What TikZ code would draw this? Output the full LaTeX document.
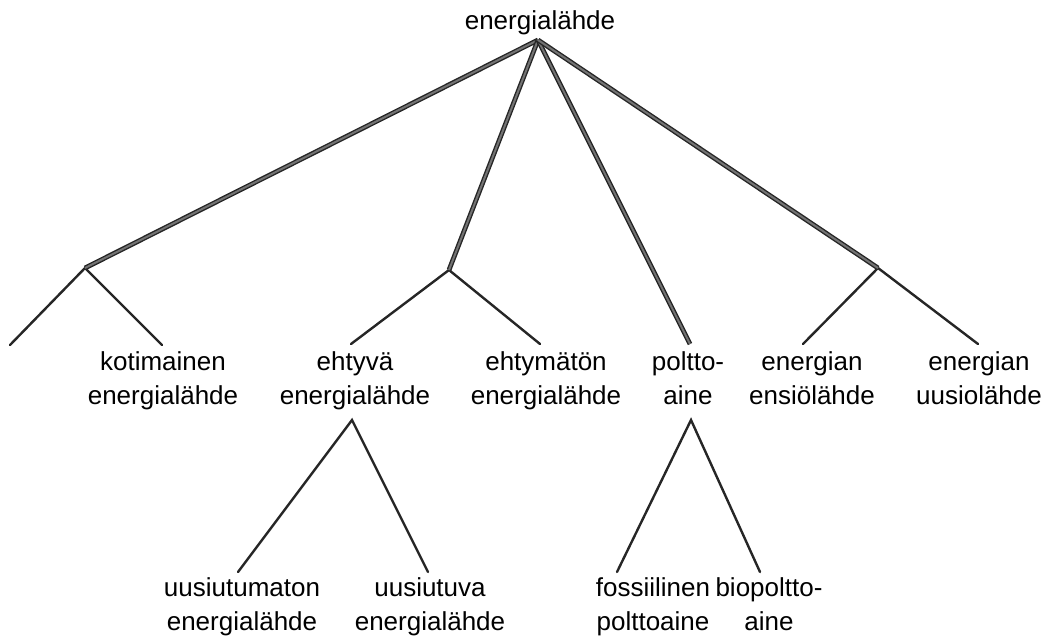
\documentclass[tikz,border=0pt]{standalone}
\usepackage{fontspec}
\setmainfont{Liberation Sans}
\begin{document}
\begin{tikzpicture}[x=1pt,y=-1pt,
  lbl/.style={font=\fontsize{26}{34}\selectfont, align=center, anchor=base, inner sep=0pt},
  thinln/.style={line width=2.4pt, draw=black!85, line cap=round},
  mainln/.style={line width=1.4pt, draw=black!85, double=black!55, double distance=2pt}]
\useasboundingbox (0,0) rectangle (1052,637);
% labels (base anchor = baseline of the last line)
\node[lbl] (root) at (540,29) {energialähde};
\node[lbl] (koti) at (163,404) {kotimainen\\energialähde};
\node[lbl] (ehty) at (355,404) {ehtyvä\\energialähde};
\node[lbl] (ehtym) at (546,404) {ehtymätön\\energialähde};
\node[lbl] (poltto) at (688,404) {poltto-\\aine};
\node[lbl] (ensio) at (812,404) {energian\\ensiölähde};
\node[lbl] (uusio) at (979,404) {energian\\uusiolähde};
\node[lbl] (uusm) at (242,630) {uusiutumaton\\energialähde};
\node[lbl] (uusv) at (430,630) {uusiutuva\\energialähde};
\node[lbl] (foss) at (653,630) {fossiilinen\\polttoaine};
\node[lbl] (bio) at (769,630) {biopoltto-\\aine};
% branch points and ends
\coordinate (r) at (538,40);
\coordinate (a) at (85,268);
\coordinate (b) at (449,270);
\coordinate (c) at (690,344);
\coordinate (d) at (878,268);
\coordinate (a1) at (10,345);
\coordinate (a2) at (162,345);
\coordinate (b1) at (351,344);
\coordinate (b2) at (540,344);
\coordinate (d1) at (803,344);
\coordinate (d2) at (978,344);
\coordinate (e) at (352,420);
\coordinate (e1) at (238,572);
\coordinate (e2) at (428,572);
\coordinate (p) at (691,420);
\coordinate (p1) at (617,572);
\coordinate (p2) at (760,572);
% connectors
\draw[thinln] (a) -- (a1);
\draw[thinln] (a) -- (a2);
\draw[thinln] (b) -- (b1);
\draw[thinln] (b) -- (b2);
\draw[thinln] (d) -- (d1);
\draw[thinln] (d) -- (d2);
\draw[thinln] (e1) -- (e) -- (e2);
\draw[thinln] (p1) -- (p) -- (p2);
\draw[mainln] (r) -- (a);
\draw[mainln] (r) -- (b);
\draw[mainln] (r) -- (c);
\draw[mainln] (r) -- (d);
\end{tikzpicture}
\end{document}
